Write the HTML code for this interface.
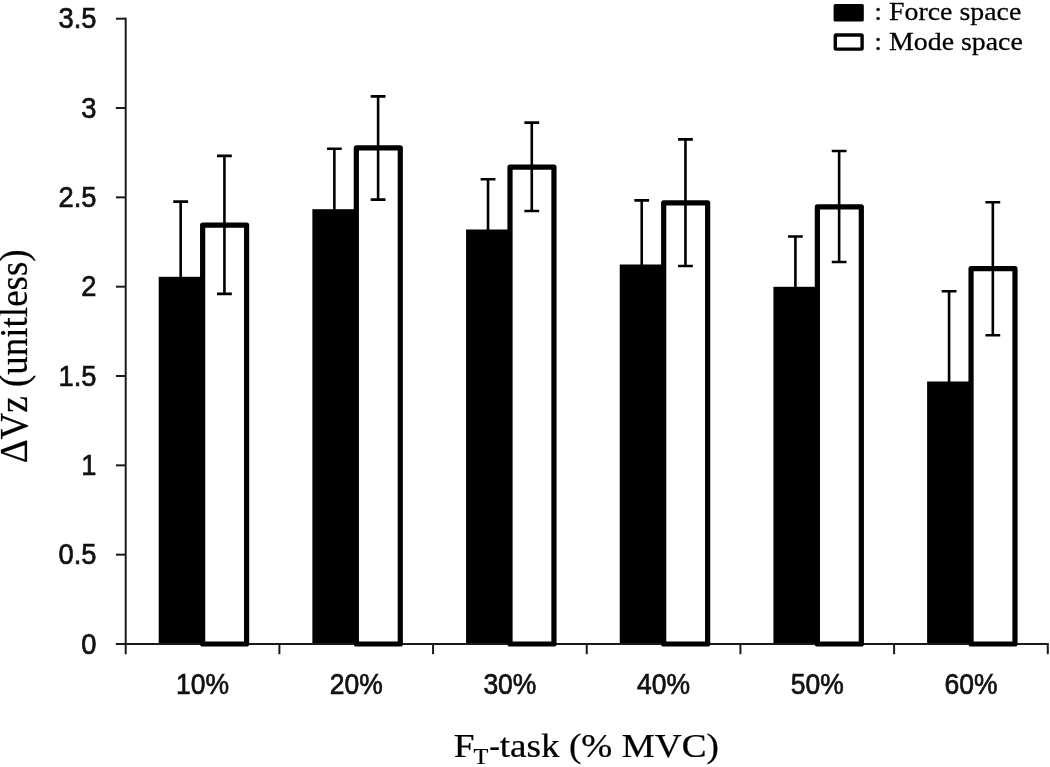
<!DOCTYPE html>
<html><head><meta charset="utf-8"><title>chart</title>
<style>
html,body{margin:0;padding:0;background:#fff;}
svg{display:block;will-change:transform;}
text{font-family:"Liberation Sans",sans-serif;fill:#111;stroke:#111;stroke-width:0.7px;}
.ser{font-family:"Liberation Serif",serif;fill:#000;stroke:#000;stroke-width:0.25px;}
</style></head><body>
<svg width="1050" height="767" viewBox="0 0 1050 767">
<rect x="0" y="0" width="1050" height="767" fill="#fff"/>
<rect x="158.70" y="276.80" width="44.95" height="368.00" fill="#000"/>
<rect x="312.38" y="209.20" width="44.95" height="435.60" fill="#000"/>
<rect x="466.06" y="229.50" width="44.95" height="415.30" fill="#000"/>
<rect x="619.74" y="264.50" width="44.95" height="380.30" fill="#000"/>
<rect x="773.42" y="286.80" width="44.95" height="358.00" fill="#000"/>
<rect x="927.10" y="381.50" width="44.95" height="263.30" fill="#000"/>
<g stroke="#1a1a1a" stroke-width="2" fill="none" stroke-linecap="butt">
<line x1="125.7" y1="17.7" x2="125.7" y2="654.2"/>
<line x1="115.9" y1="644.0" x2="1048.7" y2="644.0"/>
<line x1="115.9" y1="554.67" x2="125.7" y2="554.67"/>
<line x1="115.9" y1="465.34" x2="125.7" y2="465.34"/>
<line x1="115.9" y1="376.01" x2="125.7" y2="376.01"/>
<line x1="115.9" y1="286.68" x2="125.7" y2="286.68"/>
<line x1="115.9" y1="197.35" x2="125.7" y2="197.35"/>
<line x1="115.9" y1="108.02" x2="125.7" y2="108.02"/>
<line x1="115.9" y1="18.69" x2="125.7" y2="18.69"/>
<line x1="279.38" y1="644.0" x2="279.38" y2="654.2"/>
<line x1="433.06" y1="644.0" x2="433.06" y2="654.2"/>
<line x1="586.74" y1="644.0" x2="586.74" y2="654.2"/>
<line x1="740.42" y1="644.0" x2="740.42" y2="654.2"/>
<line x1="894.10" y1="644.0" x2="894.10" y2="654.2"/>
<line x1="1047.78" y1="644.0" x2="1047.78" y2="654.2"/>
</g>
<rect x="202.65" y="225.10" width="43.95" height="418.90" fill="#fff" stroke="#000" stroke-width="5.2" stroke-linejoin="round"/>
<rect x="356.33" y="147.80" width="43.95" height="496.20" fill="#fff" stroke="#000" stroke-width="5.2" stroke-linejoin="round"/>
<rect x="510.01" y="167.20" width="43.95" height="476.80" fill="#fff" stroke="#000" stroke-width="5.2" stroke-linejoin="round"/>
<rect x="663.69" y="202.80" width="43.95" height="441.20" fill="#fff" stroke="#000" stroke-width="5.2" stroke-linejoin="round"/>
<rect x="817.37" y="206.80" width="43.95" height="437.20" fill="#fff" stroke="#000" stroke-width="5.2" stroke-linejoin="round"/>
<rect x="971.05" y="268.70" width="43.95" height="375.30" fill="#fff" stroke="#000" stroke-width="5.2" stroke-linejoin="round"/>
<g stroke="#000" stroke-width="2.6" fill="none">
<path d="M180.67 277.80V201.60M173.27 201.60H188.07"/>
<path d="M224.43 293.90V155.90M217.03 155.90H231.83M217.03 293.90H231.83"/>
<path d="M334.36 210.20V148.70M326.96 148.70H341.75"/>
<path d="M378.11 199.60V96.40M370.71 96.40H385.50M370.71 199.60H385.50"/>
<path d="M488.04 230.50V179.30M480.64 179.30H495.44"/>
<path d="M531.78 211.00V122.60M524.38 122.60H539.18M524.38 211.00H539.18"/>
<path d="M641.72 265.50V200.40M634.32 200.40H649.12"/>
<path d="M685.46 266.00V139.40M678.06 139.40H692.86M678.06 266.00H692.86"/>
<path d="M795.40 287.80V236.50M788.00 236.50H802.80"/>
<path d="M839.14 262.00V151.00M831.75 151.00H846.54M831.75 262.00H846.54"/>
<path d="M949.08 382.50V291.30M941.68 291.30H956.48"/>
<path d="M992.83 335.30V202.30M985.43 202.30H1000.23M985.43 335.30H1000.23"/>
</g>
<g transform="translate(96.4,653.60) scale(0.955,1)"><text x="0" y="0" font-size="28.6" text-anchor="end">0</text></g>
<g transform="translate(96.4,564.27) scale(0.955,1)"><text x="0" y="0" font-size="28.6" text-anchor="end">0.5</text></g>
<g transform="translate(96.4,474.94) scale(0.955,1)"><text x="0" y="0" font-size="28.6" text-anchor="end">1</text></g>
<g transform="translate(96.4,385.61) scale(0.955,1)"><text x="0" y="0" font-size="28.6" text-anchor="end">1.5</text></g>
<g transform="translate(96.4,296.28) scale(0.955,1)"><text x="0" y="0" font-size="28.6" text-anchor="end">2</text></g>
<g transform="translate(96.4,206.95) scale(0.955,1)"><text x="0" y="0" font-size="28.6" text-anchor="end">2.5</text></g>
<g transform="translate(96.4,117.62) scale(0.955,1)"><text x="0" y="0" font-size="28.6" text-anchor="end">3</text></g>
<g transform="translate(96.4,28.29) scale(0.955,1)"><text x="0" y="0" font-size="28.6" text-anchor="end">3.5</text></g>
<text x="202.54" y="693.9" font-size="29.2" text-anchor="middle" textLength="53" lengthAdjust="spacingAndGlyphs">10%</text>
<text x="356.22" y="693.9" font-size="29.2" text-anchor="middle" textLength="53" lengthAdjust="spacingAndGlyphs">20%</text>
<text x="509.90" y="693.9" font-size="29.2" text-anchor="middle" textLength="53" lengthAdjust="spacingAndGlyphs">30%</text>
<text x="663.58" y="693.9" font-size="29.2" text-anchor="middle" textLength="53" lengthAdjust="spacingAndGlyphs">40%</text>
<text x="817.26" y="693.9" font-size="29.2" text-anchor="middle" textLength="53" lengthAdjust="spacingAndGlyphs">50%</text>
<text x="970.94" y="693.9" font-size="29.2" text-anchor="middle" textLength="53" lengthAdjust="spacingAndGlyphs">60%</text>
<g transform="translate(453.8,757.3) scale(1.1014,1)"><text class="ser" x="0" y="0" font-size="33.8">F</text><text class="ser" x="17.93" y="6.6" font-size="22.1">T</text><text class="ser" x="32.25" y="0" font-size="33.8" textLength="9.7" lengthAdjust="spacingAndGlyphs">-</text><text class="ser" x="41.69" y="0" font-size="33.8">task (% MVC)</text></g>
<g transform="translate(27.2,463.2) rotate(-90) scale(0.944,1)"><text class="ser" x="0" y="0" font-size="39.2">ΔVz (unitless)</text></g>
<rect x="833.6" y="3.9" width="30.2" height="17.6" rx="1.5" fill="#000"/>
<rect x="835.3" y="35.0" width="26.8" height="14.1" rx="0.8" fill="#fff" stroke="#000" stroke-width="3.4"/>
<g transform="translate(874.3,19.6) scale(1.08,1)"><text class="ser" x="0" y="0" font-size="25.8">: Force space</text></g>
<g transform="translate(874.3,50.4) scale(1.08,1)"><text class="ser" x="0" y="0" font-size="25.8">: Mode space</text></g>
</svg></body></html>
